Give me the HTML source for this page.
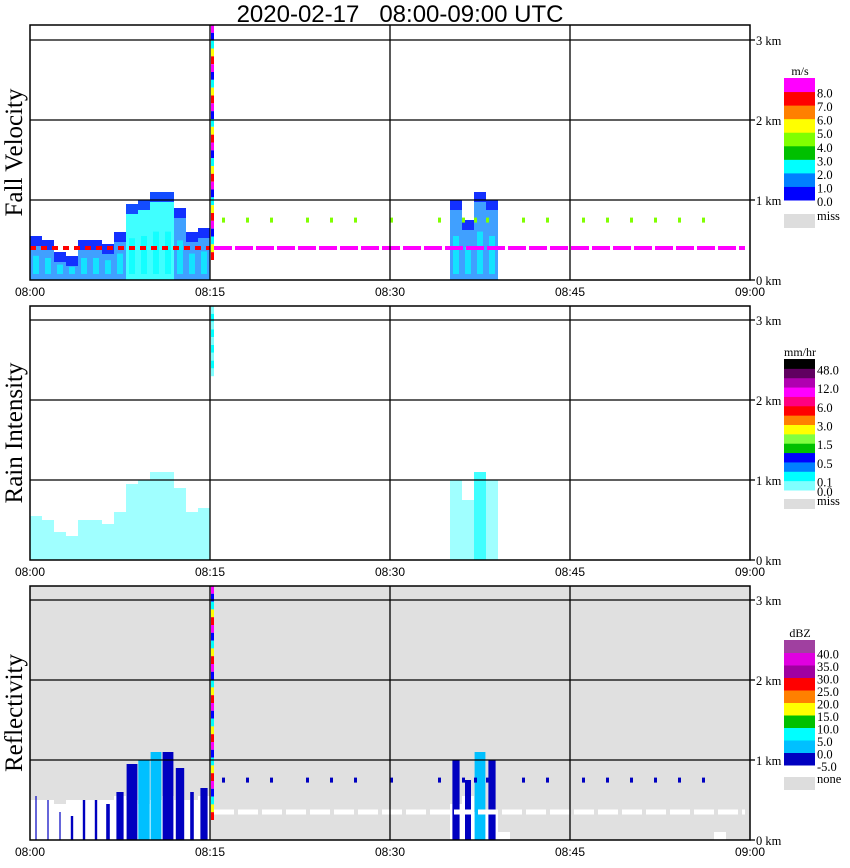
<!DOCTYPE html>
<html><head><meta charset="utf-8">
<style>
html,body{margin:0;padding:0;background:#fff;width:850px;height:868px;overflow:hidden}
svg{display:block}
text{font-family:"Liberation Serif",serif;fill:#000}
.sans{font-family:"Liberation Sans",sans-serif}
</style></head>
<body>
<svg id="chart" width="850" height="868" viewBox="0 0 850 868">
<text class="sans" x="400" y="22" font-size="24" text-anchor="middle" style="white-space:pre" xml:space="preserve">2020-02-17   08:00-09:00 UTC</text>
<g id="panels"></g>
</svg>
<script>
// ---- data (per-minute bins, 08:00..08:59) ----
const minutes = [];
for (let i = 0; i < 60; i++) minutes.push(i);
const echoTop = [0.55,0.5,0.35,0.3,0.5,0.5,0.45,0.6,0.95,1.0,1.1,1.1,0.9,0.6,0.65,
  0,0,0,0,0,0,0,0,0,0,0,0,0,0,0,0,0,0,0,0,
  1.0,0.75,1.1,1.0,0,0,0,0,0,0,0,0,0,0,0,0,0,0,0,0,0,0,0,0,0];
const fallSpeed = [1.5,1.5,1.5,1.5,1.5,1.5,1.5,1.6,2.2,2.5,2.3,2.2,1.5,1.2,1.4,
  0,0,0,0,0,0,0,0,0,0,0,0,0,0,0,0,0,0,0,0,
  1.0,1.5,1.5,1.2,0,0,0,0,0,0,0,0,0,0,0,0,0,0,0,0,0,0,0,0,0];
const rainRate = [0.05,0.05,0.05,0.05,0.05,0.05,0.05,0.05,0.05,0.05,0.05,0.05,0.05,0.05,0.05,
  0,0,0,0,0,0,0,0,0,0,0,0,0,0,0,0,0,0,0,0,
  0.05,0.05,0.2,0.05,0,0,0,0,0,0,0,0,0,0,0,0,0,0,0,0,0,0,0,0,0];
const reflect = [-2,-2,-2,-2,-2,-2,-2,-2,-1,2,3,-1,-2,-2,-2,
  0,0,0,0,0,0,0,0,0,0,0,0,0,0,0,0,0,0,0,0,
  -1,-2,2,-1,0,0,0,0,0,0,0,0,0,0,0,0,0,0,0,0,0,0,0,0,0];
const reflEchoFrac = [0.1,0.1,0.1,0.2,0.2,0.2,0.3,0.6,0.9,0.95,0.9,0.9,0.7,0.3,0.6,
  0,0,0,0,0,0,0,0,0,0,0,0,0,0,0,0,0,0,0,0,
  0.6,0.5,0.9,0.6,0,0,0,0,0,0,0,0,0,0,0,0,0,0,0,0,0,0,0,0,0];
const clutterTop = [0.5,0.5,0.45,0.5,0.5,0.5,0.5,0.55,0.5,0.45,0.5,0.55,0.5,0.5,0.55,
  0,0,0,0,0,0,0,0,0,0,0,0,0,0,0,0,0,0,0,0,
  0.45,0.55,0.35,0.35,0.1,0,0,0,0,0,0,0,0,0,0,0,0,0,0,0,0,0,0.1,0,0];
const dotMinutes = [16,18,20,23,25,27,30,34,36,37,38,41,43,46,48,50,52,54,56];
const timeTicks = ["08:00","08:15","08:30","08:45","09:00"];
const kmTicks = [0,1,2,3];
const vfLevels = ["0.0","1.0","2.0","3.0","4.0","5.0","6.0","7.0","8.0"];
const rainLevels = ["0.0","0.1","","0.5","","1.5","","3.0","","6.0","","12.0","","48.0"];
const dbzLevels = ["-5.0","0.0","5.0","10.0","15.0","20.0","25.0","30.0","35.0","40.0"];

const vfColors = ["#0000ff","#0080ff","#00ffff","#00c000","#80ff00","#ffff00","#ff8000","#ff0000","#ff00ff"];
const rainColors = ["#80ffff","#00ffff","#0080ff","#0000ff","#00c000","#80ff40","#ffff00","#ff8000","#ff0000","#ff0080","#ff00ff","#b000b0","#600060","#000000"];
const dbzColors = ["#0000c0","#00c0ff","#00ffff","#00c000","#ffff00","#ff8000","#ff0000","#a000a0","#e000e0","#a040a0"];

const NS = "http://www.w3.org/2000/svg";
const root = document.getElementById("panels");
function el(tag, attrs, parent) {
  const e = document.createElementNS(NS, tag);
  for (const k in attrs) e.setAttribute(k, attrs[k]);
  (parent || root).appendChild(e);
  return e;
}
const X0 = 30, X1 = 750;
function xScale(m) { return X0 + m * (X1 - X0) / 60; }

const panels = [
  {name:"fall-velocity", label:"Fall Velocity", top:25, base:280, bg:"#fff"},
  {name:"rain-intensity", label:"Rain Intensity", top:306, base:560, bg:"#fff"},
  {name:"reflectivity", label:"Reflectivity", top:586, base:840, bg:"#e0e0e0"}
];
function yScale(p, km) { return p.base - km * 80; }
function vfColor(v){ return vfColors[Math.max(0, Math.min(8, Math.floor(v)))]; }
function rainColor(r){ return r < 0.1 ? rainColors[0] : r < 0.3 ? rainColors[1] : rainColors[2]; }
function dbzColor(d){ return d < 0 ? dbzColors[0] : d < 5 ? dbzColors[1] : dbzColors[2]; }

panels.forEach((p, pi) => {
  const g = el("g", {});
  
  
  el("rect", {x:X0, y:p.top, width:X1-X0, height:p.base-p.top, fill:p.bg}, g);

  minutes.forEach(i => {
    const x = xScale(i), w = xScale(i+1) - x;
    if (pi === 2 && clutterTop[i] > 0) {
      const c = el("rect", {x:x, y:yScale(p, clutterTop[i]), width:w, height:clutterTop[i]*80, fill:"#fff"}, g);
      
      
    }
    const top = echoTop[i];
    if (top <= 0) return;
    let fill;
    if (pi === 0) fill = vfColor(fallSpeed[i]);
    else if (pi === 1) fill = rainColor(rainRate[i]);
    else fill = dbzColor(reflect[i]);
    let wd = w;
    if (pi === 2) wd = w * reflEchoFrac[i];
    const r = el("rect", {x:x + (w-wd)/2, y:yScale(p, top), width:wd, height:top*80, fill:fill, opacity: pi===2 ? 1 : 0.75}, g);
    
    
    if (pi === 0) {
      const cap = el("rect", {x:x, y:yScale(p, top), width:w, height:10, fill:"#0000ff", opacity:0.7}, g);
      
      
      const core = el("rect", {x:x+3, y:yScale(p, top*0.55), width:w-6, height:top*0.55*80-6, fill:"#00ffff", opacity:0.7}, g);
      
      
    }
  });

  if (pi === 0) {
    el("line", {x1:X0, x2:210, y1:yScale(p,0.4), y2:yScale(p,0.4), stroke:"#ff0000", "stroke-width":4, "stroke-dasharray":"6 5"}, g);
    el("line", {x1:214, x2:745, y1:yScale(p,0.4), y2:yScale(p,0.4), stroke:"#ff00ff", "stroke-width":4, "stroke-dasharray":"18 3"}, g);
    dotMinutes.forEach(m => {
      const d = el("rect", {x:xScale(m), y:yScale(p,0.78), width:3, height:5, fill:"#80ff00"}, g);
      
      
    });
  }
  if (pi === 2) {
    el("line", {x1:214, x2:745, y1:yScale(p,0.35), y2:yScale(p,0.35), stroke:"#fff", "stroke-width":5, "stroke-dasharray":"20 4"}, g);
    dotMinutes.forEach(m => {
      const d = el("rect", {x:xScale(m), y:yScale(p,0.78), width:3, height:5, fill:"#0000c0"}, g);
      
      
    });
  }
  const spikeCols = pi === 1 ? ["#80ffff","#00ffff"] : ["#ff00ff","#0000ff","#00ffff","#ffff00","#ff0000"];
  for (let k = 0; k < 30; k++) {
    const yy = p.top + k * (p.base - p.top - 20) / 30;
    el("rect", {x:211, y:yy, width:3, height:(p.base-p.top-20)/30, fill:spikeCols[k % spikeCols.length], opacity: pi===1 && k>8 ? 0 : 1}, g);
  }

  kmTicks.forEach(k => {
    const y = yScale(p, k);
    if (k > 0) el("line", {x1:X0, x2:X1, y1:y, y2:y, stroke:"#000", "stroke-width":1.3}, g);
    el("line", {x1:X1, x2:X1+5, y1:y, y2:y, stroke:"#000", "stroke-width":1.3}, g);
    const t = el("text", {x:X1+6, y:y+5, "font-size":12.5}, g);
    t.textContent = k + " km";
    
    
  });
  [15,30,45].forEach(m => el("line", {x1:xScale(m), x2:xScale(m), y1:p.top, y2:p.base, stroke:"#000", "stroke-width":1.3}, g));
  el("rect", {x:X0, y:p.top, width:X1-X0, height:p.base-p.top, fill:"none", stroke:"#000", "stroke-width":1.5}, g);

  timeTicks.forEach((lab, j) => {
    const t = el("text", {class:"sans", x:xScale(j*15), y:p.base+16, "font-size":12, "text-anchor":"middle"}, g);
    t.textContent = lab;
    
    
  });
  const yl = el("text", {x:0, y:0, "font-size":25, "text-anchor":"middle", transform:"translate(22," + ((p.top+p.base)/2) + ") rotate(-90)"}, g);
  yl.textContent = p.label;
  
  
});

function colorbar(name, unit, colors, labels, top, bottom, missTop, missLab, missH) {
  const g = el("g", {});
  
  
  const n = colors.length, h = (bottom - top) / n;
  const u = el("text", {x:800, y:top-3, "font-size":12, "text-anchor":"middle"}, g);
  u.textContent = unit;
  for (let i = 0; i < n; i++) {
    const y = bottom - (i+1)*h;
    el("rect", {x:784, y:y, width:31, height:h+0.5, fill:colors[i]}, g);
    if (labels[i]) {
      const t = el("text", {x:817, y:bottom - i*h + 6, "font-size":12.5}, g);
      t.textContent = labels[i];
    }
  }
  el("rect", {x:784, y:missTop, width:31, height:missH, fill:"#dddddd"}, g);
  const m = el("text", {x:817, y:missTop+6, "font-size":12.5}, g);
  m.textContent = missLab;
}
colorbar("fall-velocity-colorbar", "m/s", vfColors, vfLevels, 78, 200, 214, "miss", 14);
colorbar("rain-colorbar", "mm/hr", rainColors, rainLevels, 359, 490, 499, "miss", 10);
colorbar("reflectivity-colorbar", "dBZ", dbzColors, dbzLevels, 640, 765, 777, "none", 13);
</script>
</body></html>
